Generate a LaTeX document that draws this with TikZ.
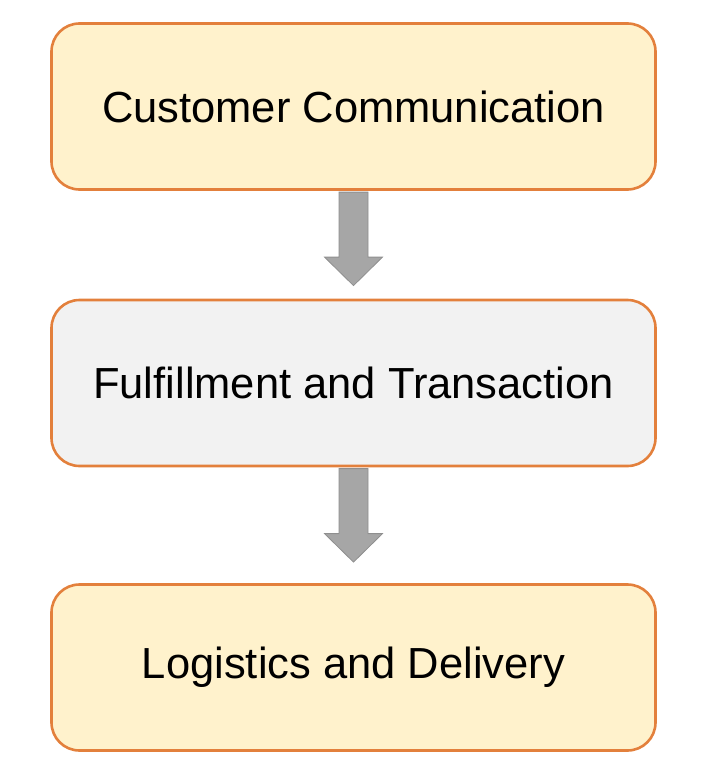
\documentclass[tikz,border=0pt]{standalone}
\usepackage{fontspec}
\setmainfont{Liberation Sans}
\definecolor{boxyellow}{HTML}{FFF2CC}
\definecolor{boxgray}{HTML}{F2F2F2}
\definecolor{boxline}{HTML}{E3803C}
\definecolor{arrowfill}{HTML}{A6A6A6}
\definecolor{arrowline}{HTML}{8F8F8F}
\begin{document}
\begin{tikzpicture}[x=1pt,y=-1pt,
  stage/.style={draw=boxline,line width=2.6pt,rounded corners=28pt,minimum width=604pt,minimum height=166pt,inner sep=0pt,font=\fontsize{43.5}{50}\selectfont},
  flowarrow/.style={fill=arrowfill,draw=arrowline,line width=0.8pt,line join=miter}]
\useasboundingbox (0,0) rectangle (706,768);
\node[stage,fill=boxyellow] (a) at (353.5,106.5) {Customer Communication};
\node[stage,fill=boxgray] (b) at (353.5,383) {Fulfillment and Transaction};
\node[stage,fill=boxyellow] (c) at (353.5,667.5) {Logistics and Delivery};
\foreach \s in {a,b}{
  \draw[flowarrow] ([xshift=-14.5pt,yshift=-1.3pt]\s.south) -- ++(0,65) -- ++(-14.5,0) -- ++(29,28.5) -- ++(29,-28.5) -- ++(-14.5,0) -- ++(0,-65) -- cycle;
}
\end{tikzpicture}
\end{document}
